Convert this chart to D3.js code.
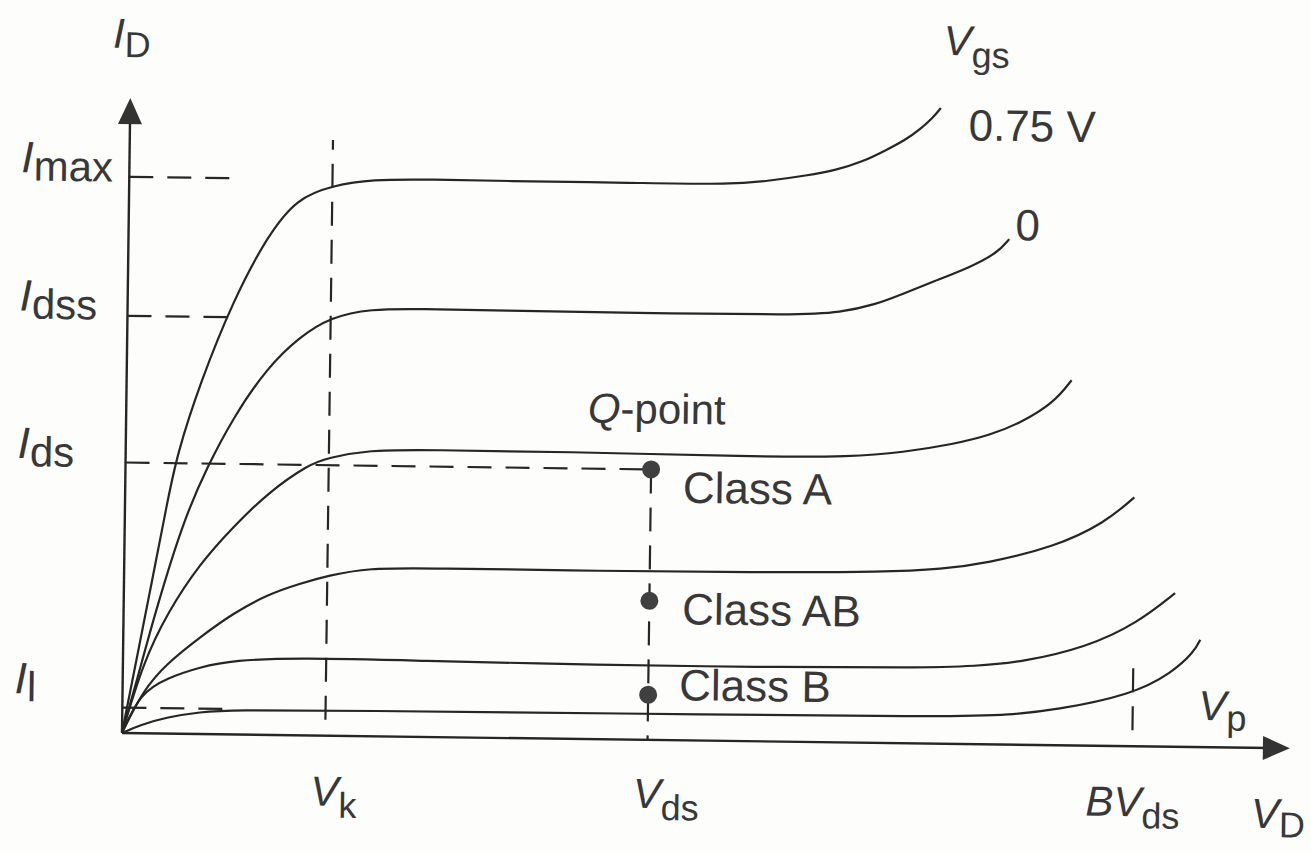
<!DOCTYPE html>
<html>
<head>
<meta charset="utf-8">
<script src="https://cdn.jsdelivr.net/npm/d3@7"></script>
<style>
  html, body { margin: 0; padding: 0; background: #fdfdfc; }
  svg { display: block; }
  text { font-family: "Liberation Sans", Arial, Helvetica, sans-serif; fill: #383838; }
</style>
</head>
<body>
<svg id="chart"></svg>
<script>
// drain characteristics, one curve per gate voltage: [Vds, Id] in arbitrary units (0..100)
const curveVgs075 = [[0,0],[1.2,12],[2.4,24],[3.6,36.2],[4.4,44],[6.3,55.3],[9.05,68.4],[11.9,78.6],[14.4,84.6],[17.4,86.6],[20.7,87.7],[26,87.8],[31.9,87.7],[43.1,87.7],[51.7,87.6],[54.8,88.3],[58,89.2],[60.5,90.1],[62.8,91.5],[64.8,93.4],[66.4,95],[67.7,96.8],[68.7,98.5],[69.4,100.1]];
const curveVgs0 = [[0,0],[1.23,8.4],[2.7,19],[5,33.5],[7,42.1],[9.2,50],[12.05,57.9],[14.8,62.8],[17.4,65.9],[20.8,67.3],[25,67.4],[31.8,67.3],[43.2,67.2],[57.6,67.2],[61,67.7],[64,69],[66.4,70.8],[69,72.8],[72.1,75.1],[74.4,77.4],[75.4,79.6]];
const curveVgsA = [[0,0],[1.73,11.1],[3.74,19],[6.5,26.9],[9.3,32.7],[12.2,38.1],[15.7,42.7],[17.3,43.7],[20.7,45.1],[26,45.2],[37.3,45.2],[53.7,44.8],[62.3,45],[66.5,45.8],[70.9,47.2],[74,48.7],[76.6,50.7],[79.4,53.9],[80.9,57.5]];
const curveVgsB = [[0,0],[1.76,6.8],[3.79,11.1],[6.6,15.3],[9.4,19.1],[12.3,22.1],[15.1,23.9],[17.45,25.2],[20.9,26.5],[26,26.6],[40.9,26.5],[53.8,26.6],[65.3,26.9],[70,27.5],[73.8,28.5],[79.6,31.2],[83.9,35.1],[86.4,39.2]];
const curveVgsC = [[0,0],[1.5,6.3],[3.8,8.75],[6.6,10.55],[9.46,11.7],[15.2,12.2],[25,12],[41,11.7],[53.9,11.7],[68.3,11.9],[73,12.3],[76.9,13],[82.5,15.5],[86.8,19.4],[90,24.2]];
const curveVgsD = [[0,0],[1.54,1.3],[3.85,2.6],[6.7,3.47],[9.26,3.85],[20,4],[41.1,4.1],[71.2,4.2],[76,4.7],[79.8,5.5],[86.4,8.1],[89.8,11.6],[91.7,15],[92.2,16.9]];
const curves = [curveVgs075, curveVgs0, curveVgsA, curveVgsB, curveVgsC, curveVgsD];
const curveLabels = ["0.75 V", "0", "", "", "", ""];

// current levels marked on the I_D axis
const levelNames = ["max", "dss", "ds", "l"];
const levelValues = [87.6, 65.7, 42.6, 4.0];

// voltages marked on the V_D axis
const vKnee = 17.4;
const vQuiescent = 45;
const vBreakdown = 86.5;

// bias points on the load line
const classNames = ["Class A", "Class AB", "Class B"];
const classValues = [42.6, 21.9, 7.1];

const width = 1311, height = 852;
const ink = "#262626";

const svg = d3.select("#chart").attr("width", width).attr("height", height);

const x = d3.scaleLinear().domain([0, 100]).range([122, 1290]);
const y = d3.scaleLinear().domain([0, 100]).range([733, 98]);

// the scanned figure is tilted a little
const g = svg.append("g").attr("transform", `rotate(0.75, ${x(0)}, ${y(0)})`);

const line = d3.line()
    .x(d => x(d[0]))
    .y(d => y(d[1]))
    .curve(d3.curveBasis);

const dash = "24,14";

function guide(x1, y1, x2, y2) {
    g.append("line")
        .attr("x1", x(x1)).attr("y1", y(y1))
        .attr("x2", x(x2)).attr("y2", y(y2))
        .attr("stroke", ink).attr("stroke-width", 2.2)
        .attr("stroke-dasharray", dash);
}

// dashed guides
levelValues.forEach((v, i) => {
    const end = levelNames[i] === "ds" ? vQuiescent : 9.2;
    guide(0, v, end, v);
});
guide(vKnee, 2.5, vKnee, 93.8);
guide(vQuiescent, levelValues[2], vQuiescent, 0);
guide(vBreakdown, 2.5, vBreakdown, 12.5);

// axes
g.append("line")
    .attr("x1", x(0)).attr("y1", y(0)).attr("x2", x(0)).attr("y2", y(100) + 20)
    .attr("stroke", ink).attr("stroke-width", 2.4);
g.append("line")
    .attr("x1", x(0)).attr("y1", y(0)).attr("x2", x(100) - 20).attr("y2", y(0))
    .attr("stroke", ink).attr("stroke-width", 2.4);
g.append("path")
    .attr("d", `M${x(0)},${y(100)} L${x(0) - 12},${y(100) + 26} L${x(0) + 12},${y(100) + 26} Z`)
    .attr("fill", "#333");
g.append("path")
    .attr("d", `M${x(100)},${y(0)} L${x(100) - 27},${y(0) - 12} L${x(100) - 27},${y(0) + 12} Z`)
    .attr("fill", "#333");

// characteristic curves
g.selectAll("path.curve")
    .data(curves)
    .join("path")
    .attr("class", "curve")
    .attr("d", line)
    .attr("fill", "none")
    .attr("stroke", ink)
    .attr("stroke-width", 2.2);

// bias points
g.selectAll("circle.bias")
    .data(classValues)
    .join("circle")
    .attr("class", "bias")
    .attr("cx", x(vQuiescent))
    .attr("cy", d => y(d))
    .attr("r", 9)
    .attr("fill", "#404040");

// labels
function subLabel(px, py, pre, main, sub, subDy, mainSize = 42, subSize = 36) {
    const t = g.append("text").attr("x", px).attr("y", py).attr("font-size", mainSize);
    if (pre) t.append("tspan").attr("font-style", "italic").text(pre);
    t.append("tspan").attr("font-style", "italic").text(main);
    t.append("tspan").attr("font-size", subSize).attr("dy", subDy).text(sub);
    return t;
}

const levelDy = { max: -3, dss: -4, ds: -3, l: -13 };
levelNames.forEach((n, i) => {
    subLabel(x(0) - 108, y(levelValues[i]) + levelDy[n], "", "I", n, 8, 44, 42);
});

subLabel(x(0) - 18, y(100) - 50, "", "I", "D", 9);
subLabel(x(vKnee) - 14, y(0) + 70, "", "V", "k", 12);
subLabel(x(vQuiescent) - 14, y(0) + 68, "", "V", "ds", 12);
subLabel(x(vBreakdown) - 46, y(0) + 70, "B", "V", "ds", 12);
subLabel(x(100) - 38, y(0) + 80, "", "V", "D", 9);
subLabel(x(100) - 92, y(0) - 27, "", "V", "p", 10);

const topEnd = curveVgs075[curveVgs075.length - 1];
subLabel(x(topEnd[0]) + 2, y(topEnd[1]) - 53, "", "V", "gs", 12);

curves.forEach((c, i) => {
    if (!curveLabels[i]) return;
    const end = c[c.length - 1];
    const off = i === 0 ? [28, 32] : [6, 1];
    g.append("text")
        .attr("x", x(end[0]) + off[0])
        .attr("y", y(end[1]) + off[1])
        .attr("font-size", 44)
        .text(curveLabels[i]);
});

const q = g.append("text")
    .attr("x", x(vQuiescent) - 64)
    .attr("y", y(classValues[0]) - 46)
    .attr("font-size", 42);
q.append("tspan").attr("font-style", "italic").text("Q");
q.append("tspan").text("-point");

const classOff = [[32, 33], [33, 23], [31, 5]];
g.selectAll("text.cls")
    .data(classNames)
    .join("text")
    .attr("class", "cls")
    .attr("x", (d, i) => x(vQuiescent) + classOff[i][0])
    .attr("y", (d, i) => y(classValues[i]) + classOff[i][1])
    .attr("font-size", 44)
    .text(d => d);
</script>
</body>
</html>
